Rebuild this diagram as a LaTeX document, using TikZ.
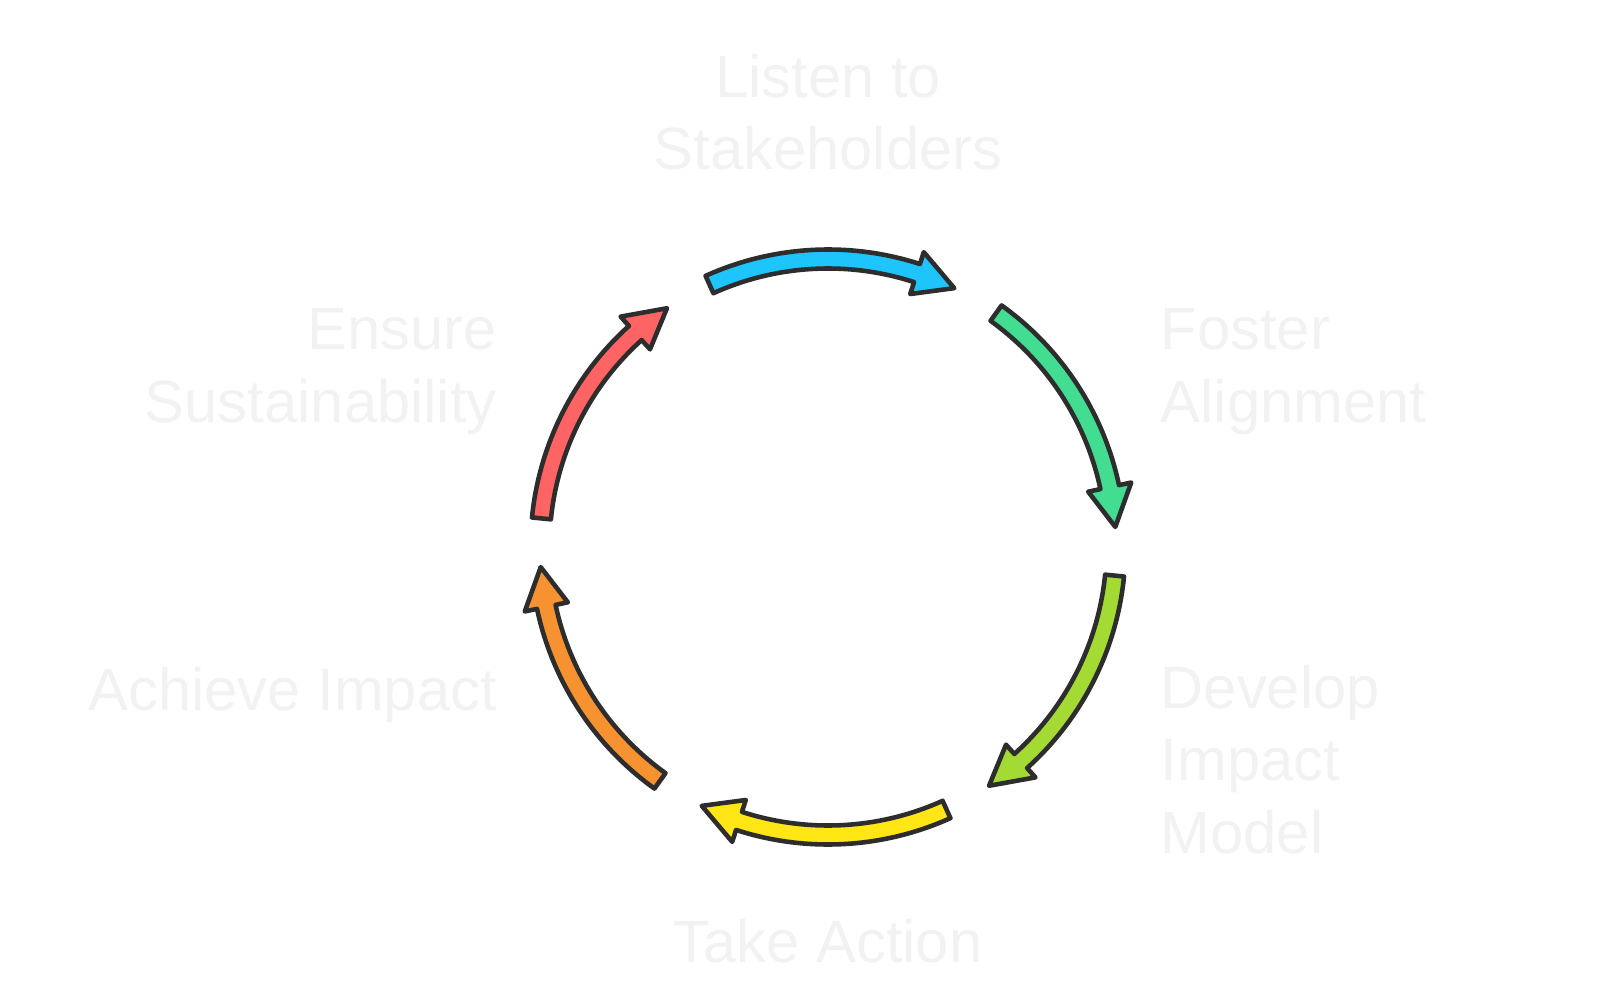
\documentclass[tikz,border=0pt]{standalone}
\usepackage{fontspec}
\setmainfont{Liberation Sans}
\definecolor{lbltxt}{RGB}{242,242,242}
\definecolor{edge}{RGB}{45,45,45}
\definecolor{cblue}{RGB}{30,196,252}
\definecolor{cgreen}{RGB}{66,221,145}
\definecolor{clime}{RGB}{163,218,52}
\definecolor{cyellow}{RGB}{255,230,20}
\definecolor{corange}{RGB}{246,146,48}
\definecolor{cred}{RGB}{255,100,100}
\begin{document}
\begin{tikzpicture}[
  band/.style = {draw = edge, line width = 1.3pt, line join = round},
  lbl/.style = {text = lbltxt, font = \fontsize{17pt}{20.5pt}\selectfont, inner sep = 0pt}
]
\useasboundingbox (0,0) rectangle (16.02,9.98);
\coordinate (c) at (8.28,4.51);
% six arrows round the cycle, clockwise
\foreach \m/\col in {90/cblue, 30/cgreen, -30/clime, -90/cyellow, -150/corange, 150/cred}
{
  \pgfmathsetmacro{\ta}{\m+24.3}
  \pgfmathsetmacro{\hb}{\m-18}
  \pgfmathsetmacro{\tp}{\m-26}
  \draw [band, fill = \col, shift = {(c)}] (\ta:2.975) arc [start angle = \ta, end angle = \hb, radius = 2.975] -- (\hb:3.10) -- (\tp:2.88) -- (\hb:2.66) -- (\hb:2.785) arc [start angle = \hb, end angle = \ta, radius = 2.785] -- cycle;
}
% labels (base = last line)
\node [lbl, anchor = base, align = center] (listen) at (8.28,8.28) {Listen to\\Stakeholders};
\node [lbl, anchor = base west, align = left] (foster) at (11.60,5.76) {Foster\\Alignment};
\node [lbl, anchor = base west, align = left] (develop) at (11.60,1.45) {Develop\\Impact\\Model};
\node [lbl, anchor = base] (action) at (8.28,0.36) {Take Action};
\node [lbl, anchor = base east] (achieve) at (4.975,2.88) {Achieve Impact};
\node [lbl, anchor = base east, align = right] (ensure) at (4.975,5.76) {Ensure\\Sustainability};
\end{tikzpicture}
\end{document}
